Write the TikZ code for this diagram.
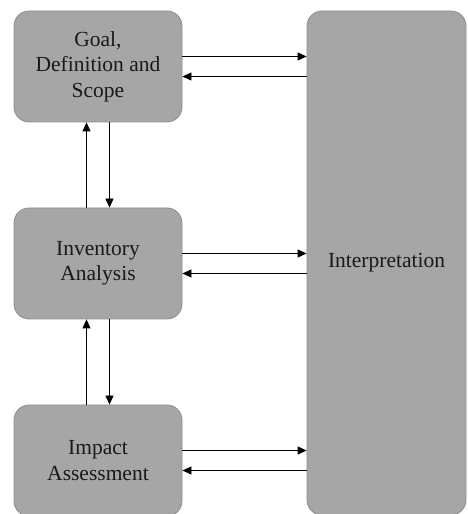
\documentclass[tikz,border=0pt]{standalone}
\usepackage{fontspec}
\setmainfont{Liberation Serif}
\usetikzlibrary{arrows.meta}
\definecolor{boxgray}{HTML}{A6A6A6}
\definecolor{edgegray}{HTML}{8E8E8E}
\tikzset{
  stage/.style={draw=edgegray, fill=boxgray, rounded corners=15pt, align=center,
    inner sep=0pt, line width=0.8pt, text=black!90,
    font=\fontsize{21.5}{25.5}\selectfont,
    minimum width=168pt, minimum height=111pt},
  arr/.style={-{Triangle[length=9pt,width=8pt]}, line width=0.8pt},
}
\begin{document}
\begin{tikzpicture}[x=1pt,y=1pt]
  \useasboundingbox (0,0) rectangle (467,514);
  % stages
  \node[stage] (goal) at (98,447.5) {Goal,\\Definition and\\Scope};
  \node[stage] (inv) at (98,250.5) {Inventory\\Analysis};
  \node[stage] (imp) at (98,53.5) {Impact\\Assessment};
  \node[stage, minimum width=159pt, minimum height=504pt] (interp) at (386.5,251) {Interpretation};
  % to and from interpretation
  \foreach \s in {goal,inv,imp} {
    \draw[arr] ([yshift=10pt]\s.east) -- ([yshift=10pt]\s.east -| interp.west);
    \draw[arr] ([yshift=-10pt]\s.east -| interp.west) -- ([yshift=-10pt]\s.east);
  }
  % between stages
  \draw[arr] ([xshift=-11.5pt]inv.north) -- ([xshift=-11.5pt]inv.north |- goal.south);
  \draw[arr] ([xshift=11.5pt]goal.south) -- ([xshift=11.5pt]goal.south |- inv.north);
  \draw[arr] ([xshift=-11.5pt]imp.north) -- ([xshift=-11.5pt]imp.north |- inv.south);
  \draw[arr] ([xshift=11.5pt]inv.south) -- ([xshift=11.5pt]inv.south |- imp.north);
\end{tikzpicture}
\end{document}
